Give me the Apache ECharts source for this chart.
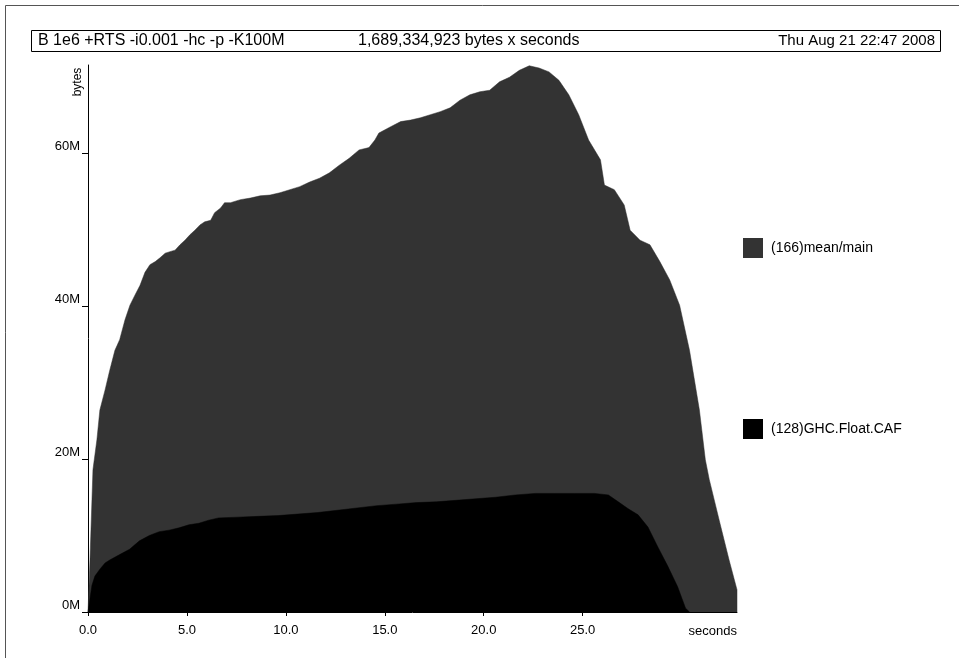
<!DOCTYPE html>
<html>
<head>
<meta charset="utf-8">
<script src="https://cdn.jsdelivr.net/npm/echarts@6/dist/echarts.min.js"></script>
<style>
  html, body { margin: 0; padding: 0; background: #fff; }
  #chart { width: 959px; height: 658px; }
</style>
</head>
<body>
<div id="chart"></div>
<script>
// ---- Data (values in megabytes, time in seconds) ----
const titleLeft = "B 1e6 +RTS -i0.001 -hc -p -K100M";
const titleMid = "1,689,334,923 bytes x seconds";
const titleRight = "Thu Aug 21 22:47 2008";
const seriesNames = ["(166)mean/main", "(128)GHC.Float.CAF"];
const yTickValues = [0, 20, 40, 60];
const xTickValues = [0, 5, 10, 15, 20, 25];

// top outline of the stacked (166)mean/main band
const mainTimes = [0, 0.1, 0.25, 0.45, 0.6, 0.86, 1.1, 1.36, 1.6, 1.87, 2.12, 2.37, 2.63, 2.88, 3.13, 3.4, 3.64, 3.9, 4.14, 4.4, 4.65, 4.9, 5.15, 5.4, 5.66, 5.9, 6.2, 6.4, 6.7, 6.9, 7.2, 7.7, 8.2, 8.7, 9.2, 9.7, 10.2, 10.7, 11.2, 11.7, 12.2, 12.7, 13.2, 13.7, 14.2, 14.5, 14.7, 15.2, 15.8, 16.3, 16.8, 17.3, 17.8, 18.3, 18.8, 19.3, 19.8, 20.3, 20.8, 21.3, 21.8, 22.3, 22.8, 23.3, 23.8, 24.3, 24.8, 25.3, 25.9, 26.1, 26.6, 27.1, 27.4, 27.9, 28.4, 28.9, 29.4, 29.9, 30.4, 30.9, 31.2, 31.4, 31.9, 32.4, 32.8, 32.8];
const mainTop = [0, 6.8, 18.6, 22.5, 26.4, 29.0, 31.6, 34.2, 35.6, 38.2, 40.1, 41.4, 42.7, 44.4, 45.4, 45.8, 46.3, 46.9, 47.1, 47.3, 48.0, 48.6, 49.3, 49.9, 50.6, 51.0, 51.2, 52.2, 52.8, 53.5, 53.5, 53.9, 54.1, 54.4, 54.5, 54.8, 55.2, 55.6, 56.2, 56.7, 57.4, 58.4, 59.3, 60.4, 60.7, 61.7, 62.6, 63.3, 64.1, 64.3, 64.6, 65.0, 65.4, 65.9, 66.9, 67.6, 68.0, 68.2, 69.3, 69.9, 70.8, 71.4, 71.1, 70.6, 69.5, 67.6, 65.0, 61.7, 59.1, 55.8, 55.2, 53.2, 49.9, 48.6, 48.0, 45.8, 43.4, 40.1, 34.2, 26.4, 19.9, 17.3, 12.0, 6.8, 2.9, 0];

// (128)GHC.Float.CAF band
const cafTimes = [0, 0.2, 0.35, 0.6, 0.86, 1.1, 1.6, 2.1, 2.6, 3.1, 3.6, 4.1, 4.6, 5.1, 5.6, 6.1, 6.6, 7.6, 8.6, 9.6, 10.6, 11.6, 12.6, 13.6, 14.6, 15.6, 16.6, 17.6, 18.6, 19.6, 20.6, 21.6, 22.6, 23.6, 24.6, 25.6, 26.3, 26.8, 27.3, 27.8, 28.3, 28.8, 29.3, 29.8, 30.2, 30.4];
const cafValues = [0, 3.5, 4.7, 5.6, 6.4, 6.8, 7.5, 8.2, 9.3, 10.0, 10.5, 10.7, 11.0, 11.4, 11.6, 12.0, 12.3, 12.4, 12.5, 12.6, 12.8, 13.0, 13.3, 13.6, 13.9, 14.1, 14.3, 14.4, 14.6, 14.8, 15.0, 15.3, 15.5, 15.5, 15.5, 15.5, 15.3, 14.4, 13.5, 12.7, 11.1, 8.5, 6.0, 3.3, 0.5, 0];

const FONT = "'Liberation Sans', Arial, Helvetica, sans-serif";
const GRAY = "#333333";

const chart = echarts.init(document.getElementById('chart'), null, { renderer: 'canvas' });

const mainData = mainTimes.map((t, i) => [t, mainTop[i]]);
const cafData = cafTimes.map((t, i) => [t, cafValues[i]]);

chart.setOption({
  backgroundColor: '#ffffff',
  animation: false,
  textStyle: { fontFamily: FONT, color: '#000' },
  grid: { left: 88, top: 65, right: 222, bottom: 46, containLabel: false },
  legend: {
    orient: 'vertical',
    left: 743, top: 238,
    padding: 0,
    itemWidth: 20, itemHeight: 20,
    itemGap: 161,
    icon: 'rect',
    textStyle: { fontFamily: FONT, fontSize: 14, color: '#000', padding: [0, 0, 0, 3] },
    data: seriesNames
  },
  xAxis: {
    type: 'value',
    min: 0, max: 32.8,
    splitLine: { show: false },
    axisLine: { lineStyle: { color: '#000', width: 1 } },
    axisTick: { length: 4, lineStyle: { color: '#000' }, customValues: xTickValues },
    axisLabel: {
      customValues: xTickValues,
      formatter: v => v.toFixed(1),
      fontFamily: FONT, fontSize: 13, color: '#000', margin: 12
    }
  },
  yAxis: {
    type: 'value',
    min: 0, max: 71.5,
    splitLine: { show: false },
    axisLine: { lineStyle: { color: '#000', width: 1 } },
    axisTick: { length: 6, lineStyle: { color: '#000' }, customValues: yTickValues },
    axisLabel: {
      customValues: yTickValues,
      formatter: v => v + 'M',
      verticalAlign: 'bottom',
      fontFamily: FONT, fontSize: 13, color: '#000', margin: 8
    }
  },
  graphic: [
    { type: 'rect', shape: { x: 5.5, y: 5.5, width: 1000, height: 1000 }, style: { fill: null, stroke: '#555', lineWidth: 1 }, silent: true },
    { type: 'rect', shape: { x: 31.5, y: 30.5, width: 909, height: 21 }, style: { fill: '#fff', stroke: '#000', lineWidth: 1 }, silent: true },
    { type: 'text', x: 38, y: 41, style: { text: titleLeft, font: '16px ' + FONT, fill: '#000', verticalAlign: 'middle' } },
    { type: 'text', x: 358, y: 41, style: { text: titleMid, font: '16px ' + FONT, fill: '#000', verticalAlign: 'middle' } },
    { type: 'text', x: 935, y: 41, style: { text: titleRight, font: '15px ' + FONT, fill: '#000', align: 'right', verticalAlign: 'middle' } },
    { type: 'text', x: 78, y: 82, rotation: Math.PI / 2, style: { text: 'bytes', font: '12px ' + FONT, fill: '#000', align: 'center', verticalAlign: 'middle' } },
    { type: 'text', x: 737, y: 631, style: { text: 'seconds', font: '13px ' + FONT, fill: '#000', align: 'right', verticalAlign: 'middle' } }
  ],
  series: [
    {
      name: seriesNames[0], type: 'line', data: mainData,
      showSymbol: false, smooth: false, color: GRAY,
      itemStyle: { color: GRAY },
      lineStyle: { color: GRAY, width: 0.5 },
      areaStyle: { color: GRAY, opacity: 1 },
      z: 2
    },
    {
      name: seriesNames[1], type: 'line', data: cafData,
      showSymbol: false, smooth: false, color: '#000',
      itemStyle: { color: '#000' },
      lineStyle: { color: '#000', width: 0.5 },
      areaStyle: { color: '#000', opacity: 1 },
      z: 3
    }
  ]
});
</script>
</body>
</html>
